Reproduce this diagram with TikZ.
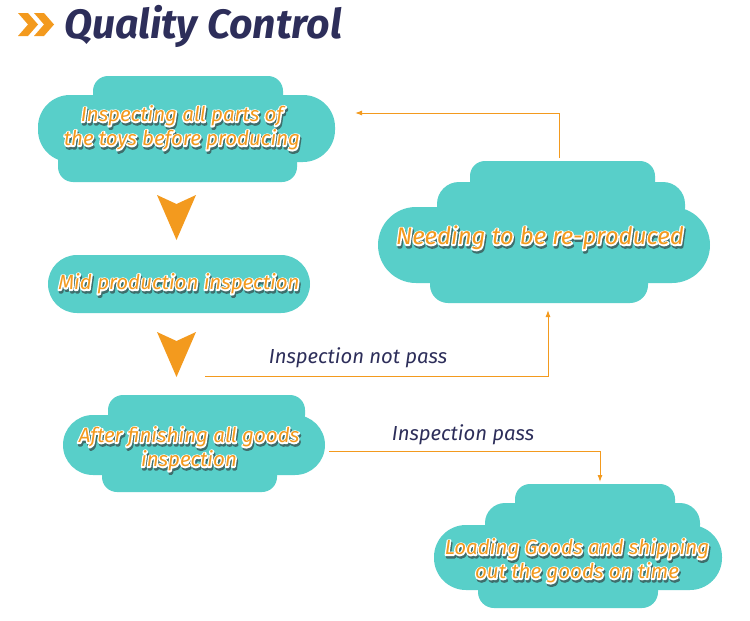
\documentclass[tikz,border=0pt]{standalone}
\usepackage{fontspec}
\setmainfont{Fira Sans}
\usetikzlibrary{arrows.meta}
\definecolor{cloudc}{HTML}{58CFC9}
\definecolor{orng}{HTML}{F39A1E}
\definecolor{navy}{HTML}{2D2E5A}
\definecolor{shadowc}{HTML}{3E6E6C}
\newcommand\strk[2]{\special{pdf:literal direct #1 RG 2.8 w 1 j 1 J 2 Tr}#2\special{pdf:literal direct 0 Tr}}
\newcommand\fancy[4][]{%
  \node[ftxt,#1,text=shadowc] at ([shift={(1.2,2.4)}]#3) {\strk{0.243 0.431 0.424}{#4}};
  \node[ftxt,#1,text=white] at (#3) {\strk{1 1 1}{#4}};
  \node[ftxt,#1,text=orng] (#2) at (#3) {#4};
}
\begin{document}
\begin{tikzpicture}[x=1pt,y=-1pt,
  ftxt/.style={font=\fontsize{20.5}{24}\selectfont\itshape, align=center, inner sep=0pt},
  big/.style={font=\fontsize{24}{28}\selectfont\itshape},
  lbl/.style={font=\fontsize{20.3}{24}\selectfont\itshape, text=navy, inner sep=0pt},
  conn/.style={draw=orng, line width=1pt, -{Latex[length=7pt,width=5pt]}},
  cl/.style={fill=cloudc}]
\useasboundingbox[fill=white] (0,0) rectangle (750,621);
% title
\fill[orng] (18,13) -- (28,13) -- (38,24.5) -- (28,36) -- (18,36) -- (28,24.5) -- cycle;
\fill[orng] (34,13) -- (44,13) -- (54,24.5) -- (44,36) -- (34,36) -- (44,24.5) -- cycle;
\node[anchor=base west, inner sep=0pt, text=navy, font=\fontsize{41}{46}\selectfont\bfseries\itshape] (title) at (64,38) {Quality Control};
% box 1
\fill[cl, rounded corners=15] (93,76) rectangle (283,115);
\fill[cl, rounded corners=32] (38,95) rectangle (335,162);
\fill[cl, rounded corners=15] (58,140) rectangle (297,182);
% box 2
\fill[cl, rounded corners=29] (48,255) rectangle (310,313);
% box 3
\fill[cl, rounded corners=15] (108,395) rectangle (305,430);
\fill[cl, rounded corners=30] (63,415) rectangle (325,475);
\fill[cl, rounded corners=15] (102,455) rectangle (277,492);
% box 4
\fill[cl, rounded corners=15] (470,161) rectangle (655,200);
\fill[cl, rounded corners=22] (437,182) rectangle (685,230);
\fill[cl, rounded corners=38] (378,207) rectangle (710,283);
\fill[cl, rounded corners=18] (430,260) rectangle (648,303);
% box 5
\fill[cl, rounded corners=15] (515,484) rectangle (675,520);
\fill[cl, rounded corners=20] (485,503) rectangle (700,545);
\fill[cl, rounded corners=32] (434,525) rectangle (722,590);
\fill[cl, rounded corners=16] (478,570) rectangle (658,608);
% triangles
\fill[orng] (157,195) -- (176.5,204) -- (196,195) -- (176.5,240) -- cycle;
\fill[orng] (157,332) -- (176.5,341) -- (196,332) -- (176.5,377) -- cycle;
% texts
\fancy{t1}{182,128}{Inspecting all parts of\\the toys before producing}
\fancy{t2}{179,284}{Mid production inspection}
\fancy{t3}{189,449}{After finishing all goods\\inspection}
\fancy[big]{t4}{540,238}{Needing to be re-produced}
\fancy{t5}{577,561}{Loading Goods and shipping\\out the goods on time}
% connectors
\coordinate (c4top) at (559,158);
\coordinate (c1end) at (355,113);
\coordinate (cnp) at (205,376);
\coordinate (c4bot) at (548,310);
\coordinate (cp) at (329,451);
\coordinate (c5top) at (600,482);
\draw[conn] (c4top) |- (c1end);
\draw[conn] (cnp) -| (c4bot);
\draw[conn] (cp) -| (c5top);
\node[lbl] (lnp) at (358,358) {Inspection not pass};
\node[lbl] (lp) at (463,435) {Inspection pass};
\end{tikzpicture}
\end{document}
